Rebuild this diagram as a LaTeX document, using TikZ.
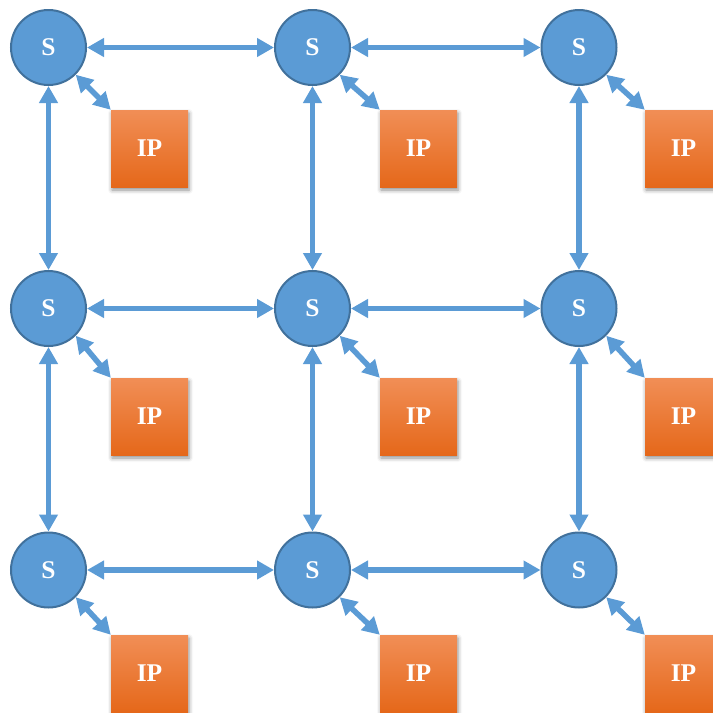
\documentclass[tikz,border=0pt]{standalone}
\usepackage{fontspec}
\setmainfont{Liberation Serif}
\usetikzlibrary{arrows.meta,shadows.blur}
\definecolor{swfill}{HTML}{5B9BD5}
\definecolor{swborder}{HTML}{41719C}
\definecolor{iptop}{RGB}{241,142,86}
\definecolor{ipmid}{RGB}{240,124,42}
\definecolor{ipbot}{RGB}{229,104,26}
\begin{document}
\begin{tikzpicture}[x=1pt,y=-1pt,
  switch/.style={circle,fill=swfill,draw=swborder,line width=2pt,minimum size=75pt,inner sep=0pt,
    text=white,font=\bfseries\fontsize{25.5}{25.5}\selectfont},
  ipbox/.style={rectangle,minimum size=77pt,inner sep=0pt,top color=iptop,middle color=ipmid,bottom color=ipbot,
    text=white,font=\bfseries\fontsize{25.5}{25.5}\selectfont,
    blur shadow={shadow xshift=1pt,shadow yshift=-3pt,shadow blur radius=4pt,shadow opacity=45}},
  link/.style={draw=swfill,line width=5.5pt,
    {Triangle[width=18pt,length=17pt]}-{Triangle[width=18pt,length=17pt]}}]
\useasboundingbox (0,0) rectangle (713,713);
\clip (0,0) rectangle (713,713);
% switches
\node[switch] (s11) at (48.5,47.5) {S};
\node[switch] (s12) at (312.5,47.5) {S};
\node[switch] (s13) at (579,47.5) {S};
\node[switch] (s21) at (48.5,308.5) {S};
\node[switch] (s22) at (312.5,308.5) {S};
\node[switch] (s23) at (579,308.5) {S};
\node[switch] (s31) at (48.5,570) {S};
\node[switch] (s32) at (312.5,570) {S};
\node[switch] (s33) at (579,570) {S};
% IP blocks
\node[ipbox] (p11) at (149.5,148.5) {IP};
\node[ipbox] (p12) at (418.5,148.5) {IP};
\node[ipbox] (p13) at (683.5,148.5) {IP};
\node[ipbox] (p21) at (149.5,416.5) {IP};
\node[ipbox] (p22) at (418.5,416.5) {IP};
\node[ipbox] (p23) at (683.5,416.5) {IP};
\node[ipbox] (p31) at (149.5,673.5) {IP};
\node[ipbox] (p32) at (418.5,673.5) {IP};
\node[ipbox] (p33) at (683.5,673.5) {IP};
% horizontal links
\foreach \r in {1,2,3}{
  \draw[link] (s\r1) -- (s\r2);
  \draw[link] (s\r2) -- (s\r3);
}
% vertical links
\foreach \c in {1,2,3}{
  \draw[link] (s1\c) -- (s2\c);
  \draw[link] (s2\c) -- (s3\c);
}
% switch-IP links
\foreach \r in {1,2,3}{
  \foreach \c in {1,2,3}{
    \draw[link] (s\r\c.-45) -- (p\r\c.north west);
  }
}
\end{tikzpicture}
\end{document}
